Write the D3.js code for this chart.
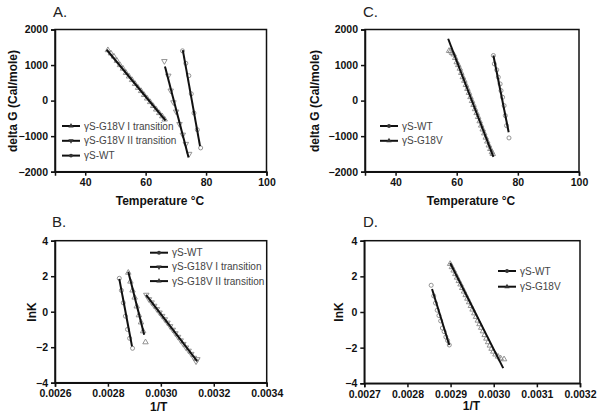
<!DOCTYPE html>
<html><head><meta charset="utf-8">
<script src="https://cdn.jsdelivr.net/npm/d3@7"></script>
<style>
body{margin:0;background:#fff}
svg{display:block}
text{font-family:"Liberation Sans",Arial,sans-serif}
</style></head>
<body><div id="chart"></div>
<script>
// ---------- DATA ----------
// Panel A: delta G vs Temperature
const A_g18vI = [[47.5,1420],[48.5,1330],[49.5,1240],[50.5,1120],[51.5,1000],[52.5,900],[53.5,780],[54.5,680],[55.5,580],[56.5,470],[57.5,360],[58.5,270],[59.5,160],[60.5,60],[61.5,-40],[62.5,-150],[63.5,-250],[64.5,-350],[65.5,-440],[66.3,-530]];
const A_g18vII = [[66.2,1110],[67.5,700],[68.3,280],[69.2,-50],[70.1,-310],[71.2,-660],[72.3,-960],[73.3,-1220],[74.4,-1500]];
const A_wt = [[72.2,1400],[73.3,1050],[74.3,700],[75.1,190],[76.0,-350],[77.1,-820],[78.2,-1330]];
const A_fitI = [[47.1,1430],[66.6,-560]];
const A_fitII = [[66.4,960],[74.2,-1600]];
const A_fitWT = [[72.3,1420],[78.0,-1280]];

// Panel C
const C_wt = [[72.0,1268],[72.3,1033],[73.1,864],[73.6,657],[74.2,469],[74.5,281],[75.0,94],[75.5,-141],[75.9,-422],[76.3,-704],[77.1,-1050]];
const C_g18v = [[57.5,1400],[58.0,1390],[58.5,1340],[59.0,1300],[59.5,1200],[60.0,1080],[60.5,1000],[61.0,900],[61.5,780],[62.0,660],[62.5,560],[63.0,440],[63.5,330],[64.0,220],[64.5,100],[65.0,-10],[65.5,-120],[66.0,-240],[66.5,-350],[67.0,-460],[67.5,-580],[68.0,-700],[68.5,-810],[69.0,-920],[69.5,-1040],[70.0,-1150],[70.5,-1260],[71.0,-1360],[71.5,-1450],[71.8,-1500]];
const C_fitWT = [[72.0,1270],[77.0,-890]];
const C_fitG = [[57.2,1740],[72.0,-1580]];

// Panel B: lnK vs 1/T
const B_wt = [[0.002843,1.88],[0.002851,1.2],[0.002858,0.5],[0.002866,-0.25],[0.002874,-1.0],[0.002882,-1.5],[0.002893,-2.06]];
const B_g18vII = [[0.002877,2.2],[0.002885,1.7],[0.002893,1.2],[0.002901,0.8],[0.002909,0.3],[0.002917,-0.2],[0.002925,-0.6],[0.002933,-1.1],[0.002942,-1.72]];
const B_g18vI = [[0.002945,0.95],[0.002955,0.70],[0.002965,0.52],[0.002975,0.33],[0.002985,0.14],[0.002995,-0.05],[0.003005,-0.24],[0.003015,-0.43],[0.003025,-0.62],[0.003035,-0.82],[0.003045,-1.02],[0.003055,-1.22],[0.003065,-1.42],[0.003075,-1.62],[0.003085,-1.82],[0.003095,-2.02],[0.003105,-2.2],[0.003115,-2.38],[0.003125,-2.6],[0.003133,-2.8],[0.003138,-2.68]];
const B_fitWT = [[0.002843,1.85],[0.002891,-1.95]];
const B_fitII = [[0.002877,2.25],[0.002937,-1.3]];
const B_fitI = [[0.002944,0.95],[0.003137,-2.78]];

// Panel D
const D_wt = [[0.002855,1.5],[0.002861,0.9],[0.002865,0.5],[0.002869,0.1],[0.002873,-0.2],[0.002877,-0.5],[0.002881,-0.9],[0.002885,-1.1],[0.002889,-1.4],[0.002893,-1.6],[0.002897,-1.85]];
const D_g18v = [[0.002899,2.70],[0.002903,2.52],[0.002907,2.33],[0.002911,2.13],[0.002915,1.93],[0.002919,1.74],[0.002923,1.55],[0.002927,1.35],[0.002931,1.15],[0.002935,0.95],[0.002939,0.75],[0.002943,0.55],[0.002947,0.34],[0.002951,0.14],[0.002955,-0.07],[0.002959,-0.27],[0.002963,-0.48],[0.002967,-0.68],[0.002971,-0.88],[0.002975,-1.08],[0.002979,-1.29],[0.002983,-1.49],[0.002987,-1.69],[0.002991,-1.88],[0.002995,-2.06],[0.002999,-2.22],[0.003004,-2.38],[0.003010,-2.50],[0.003016,-2.60],[0.003024,-2.65]];
const D_fitWT = [[0.002857,1.29],[0.002897,-1.85]];
const D_fitG = [[0.002899,2.75],[0.003022,-3.15]];

// Tick values
const tempTicks = [40,60,80,100];
const dgTicks = [-2000,-1000,0,1000,2000];
const B_xTicks = [0.0026,0.0028,0.0030,0.0032,0.0034];
const D_xTicks = [0.0027,0.0028,0.0029,0.0030,0.0031,0.0032];
const lnkTicks = [-4,-2,0,2,4];

// Legends
const A_legend = ["γS-G18V I transition","γS-G18V II transition","γS-WT"];
const B_legend = ["γS-WT","γS-G18V I transition","γS-G18V II transition"];
const C_legend = ["γS-WT","γS-G18V"];
const D_legend = ["γS-WT","γS-G18V"];

// ---------- DRAW ----------
const svg = d3.select("#chart").append("svg").attr("width",600).attr("height",419);

const shapes = {
  circle: d3.symbolCircle,
  up: d3.symbolTriangle,
  down: d3.symbolTriangle
};

function panel(cfg){
  const x = d3.scaleLinear().domain(cfg.xd).range(cfg.xr);
  const y = d3.scaleLinear().domain(cfg.yd).range(cfg.yr);
  const g = svg.append("g");
  g.append("rect").attr("x",cfg.xr[0]).attr("y",cfg.yr[1])
    .attr("width",cfg.xr[1]-cfg.xr[0]).attr("height",cfg.yr[0]-cfg.yr[1])
    .attr("fill","none").attr("stroke","#111").attr("stroke-width",1.5);
  const xa = g.append("g").attr("transform",`translate(0,${cfg.yr[0]})`)
    .call(d3.axisBottom(x).tickValues(cfg.xt).tickSize(4).tickPadding(3).tickFormat(cfg.xf));
  const ya = g.append("g").attr("transform",`translate(${cfg.xr[0]},0)`)
    .call(d3.axisLeft(y).tickValues(cfg.yt).tickSize(4).tickPadding(3).tickFormat(d3.format("d")));
  [xa,ya].forEach(a=>{
    a.select(".domain").attr("stroke","#111").attr("stroke-width",1.5);
    a.selectAll(".tick line").attr("stroke","#111").attr("stroke-width",1.5);
    a.selectAll(".tick text").attr("fill","#111").attr("font-size",10.5).attr("font-weight","bold")
      .attr("font-family","'Liberation Sans',Arial,sans-serif");
  });
  g.append("text").attr("x",cfg.title[1]).attr("y",cfg.title[2]).text(cfg.title[0])
    .attr("font-size",15).attr("fill","#222");
  g.append("text").attr("x",cfg.xl[1]).attr("y",cfg.xl[2]).attr("text-anchor","middle")
    .attr("font-size",12).attr("font-weight","bold").attr("fill","#111").text(cfg.xl[0]);
  g.append("text").attr("transform",`translate(${cfg.yl[1]},${cfg.yl[2]}) rotate(-90)`)
    .attr("text-anchor","middle").attr("dy","0.35em")
    .attr("font-size",12).attr("font-weight","bold").attr("fill","#111").text(cfg.yl[0]);
  const line = d3.line().x(d=>x(d[0])).y(d=>y(d[1]));
  cfg.series.forEach(s=>{
    const sym = d3.symbol().type(shapes[s.m]).size(13);
    g.append("g").selectAll("path").data(s.pts).join("path")
      .attr("d",sym)
      .attr("transform",d=>`translate(${x(d[0])},${y(d[1])})${s.m==="down"?" rotate(180)":""}`)
      .attr("fill","none").attr("stroke","#888").attr("stroke-width",0.9);
    g.append("path").datum(s.fit).attr("d",line).attr("fill","none")
      .attr("stroke","#111").attr("stroke-width",2);
  });
  cfg.leg.items.forEach((t,i)=>{
    const yy = cfg.leg.y + i*cfg.leg.dy;
    g.append("line").attr("x1",cfg.leg.x).attr("x2",cfg.leg.x+18).attr("y1",yy).attr("y2",yy)
      .attr("stroke","#111").attr("stroke-width",2);
    const m = cfg.leg.m[i];
    g.append("path").attr("d",d3.symbol().type(shapes[m]).size(12))
      .attr("transform",`translate(${cfg.leg.x+9},${yy})${m==="down"?" rotate(180)":""}`)
      .attr("fill","#333");
    g.append("text").attr("x",cfg.leg.x+22).attr("y",yy).attr("dy","0.35em")
      .attr("font-size",10).attr("fill","#444").text(t);
  });
}

const f4 = d3.format(".4f");

panel({
  xd:[30,100], xr:[55,266.5], yd:[-2000,2000], yr:[171.7,29.5],
  xt:tempTicks, yt:dgTicks, xf:d3.format("d"),
  title:["A.",53,17], xl:["Temperature °C",160,205], yl:["delta G (Cal/mole)",13,101],
  series:[
    {pts:A_g18vI, fit:A_fitI, m:"up"},
    {pts:A_g18vII, fit:A_fitII, m:"down"},
    {pts:A_wt, fit:A_fitWT, m:"circle"}
  ],
  leg:{x:62, y:126, dy:14.8, items:A_legend, m:["up","down","circle"]}
});

panel({
  xd:[30,100], xr:[365,579], yd:[-2000,2000], yr:[171.7,29.5],
  xt:tempTicks, yt:dgTicks, xf:d3.format("d"),
  title:["C.",363,17], xl:["Temperature °C",471,205], yl:["delta G (Cal/mole)",315,101],
  series:[
    {pts:C_wt, fit:C_fitWT, m:"circle"},
    {pts:C_g18v, fit:C_fitG, m:"up"}
  ],
  leg:{x:380, y:126, dy:14.8, items:C_legend, m:["circle","up"]}
});

panel({
  xd:[0.0026,0.0034], xr:[55,266.7], yd:[-4,4], yr:[382.7,240.7],
  xt:B_xTicks, yt:lnkTicks, xf:f4,
  title:["B.",52,227], xl:["1/T",158.7,411], yl:["lnK",31.5,312],
  series:[
    {pts:B_wt, fit:B_fitWT, m:"circle"},
    {pts:B_g18vII, fit:B_fitII, m:"up"},
    {pts:B_g18vI, fit:B_fitI, m:"down"}
  ],
  leg:{x:150, y:252.7, dy:14.2, items:B_legend, m:["circle","down","up"]}
});

panel({
  xd:[0.0027,0.0032], xr:[364.3,580], yd:[-4,4], yr:[383.3,240.7],
  xt:D_xTicks, yt:lnkTicks, xf:f4,
  title:["D.",363,227], xl:["1/T",471.5,410], yl:["lnK",338.8,312],
  series:[
    {pts:D_wt, fit:D_fitWT, m:"circle"},
    {pts:D_g18v, fit:D_fitG, m:"up"}
  ],
  leg:{x:498, y:271, dy:15.7, items:D_legend, m:["circle","up"]}
});
</script></body></html>
